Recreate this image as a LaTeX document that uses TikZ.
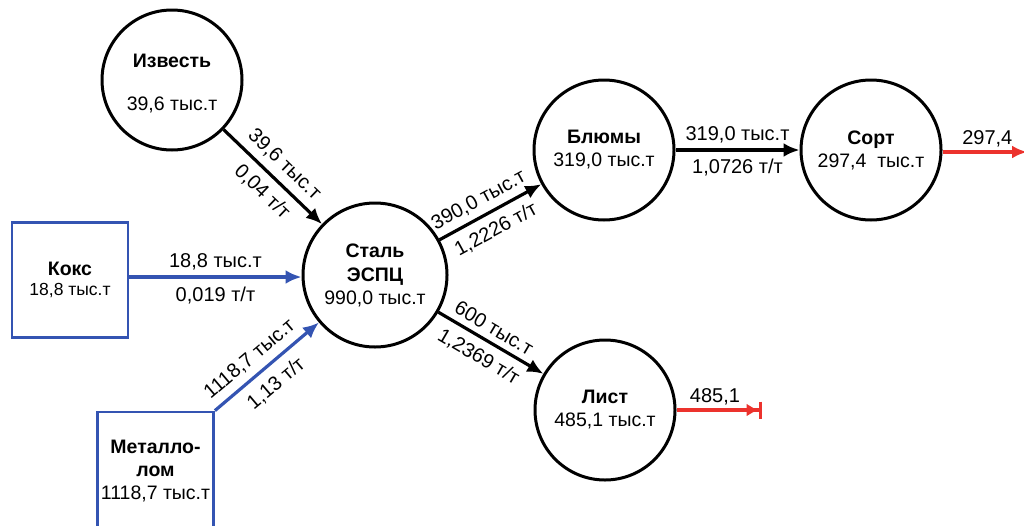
\documentclass[tikz,border=0pt]{standalone}
\usepackage{fontspec}
\setmainfont{Liberation Sans}
\usetikzlibrary{arrows.meta}
\definecolor{flowblue}{RGB}{52,84,178}
\definecolor{flowred}{RGB}{236,50,45}
\tikzset{
  circ/.style={circle, draw=black, line width=3pt, minimum size=140pt, inner sep=0pt, align=center, font=\fontsize{19.5}{23}\selectfont},
  ctext/.style={align=center, inner sep=0pt, font=\fontsize{19.5}{23}\selectfont},
  sbox/.style={rectangle, draw=flowblue, line width=2.8pt, minimum width=116pt, align=center, font=\fontsize{19.5}{23}\selectfont},
  arr/.style={line width=3.2pt, -{Latex[length=16pt,width=14pt]}},
  barr/.style={arr, draw=flowblue},
  rarr/.style={line width=3.4pt, draw=flowred},
  lab/.style={font=\fontsize{20}{22}\selectfont, sloped, inner sep=2pt},
}
\begin{document}
\begin{tikzpicture}[x=1pt,y=-1pt]
\useasboundingbox (0,0) rectangle (1024,525);
\node[circ] (izv) at (172,80) {};
\node[ctext] (izvt) at (172,84) {\textbf{Известь}\\[20pt]39,6 тыс.т};
\node[circ, minimum size=144pt] (stal) at (375,275) {\textbf{Сталь}\\[1pt]\textbf{ЭСПЦ}\\[0pt]990,0 тыс.т};
\node[circ] (blum) at (604,150) {\textbf{Блюмы}\\319,0 тыс.т};
\node[circ] (sort) at (871,150) {\textbf{Сорт}\\297,4\ \ тыс.т};
\node[circ] (list) at (605,410) {\textbf{Лист}\\485,1 тыс.т};
\node[sbox, minimum height=115pt] (koks) at (70,280) {\textbf{Кокс}\\[-3pt]{\fontsize{17.5}{20}\selectfont 18,8 тыс.т}};
\node[sbox, minimum height=118pt] (met) at (155.5,471) {\textbf{Металло-}\\\textbf{лом}\\1118,7 тыс.т};
\coordinate (sortout) at (1027,152);
\coordinate (listout) at (762,410);

\draw[arr] (izv) -- node[lab, above=5pt, pos=0.5]{39,6 тыс.т} node[lab, below=6pt, pos=0.52]{0,04 т/т} (stal);
\draw[barr] (koks.east |- 0,277) -- node[lab, above=3pt]{18,8 тыс.т} node[lab, below=6pt]{0,019 т/т} (stal.west |- 0,277);
\draw[barr] (met.north east) -- node[lab, above=5pt, pos=0.44]{1118,7 тыс.т} node[lab, below=7pt, pos=0.47]{1,13 т/т} (stal);
\draw[arr] (stal) -- node[lab, above=4pt, pos=0.46]{390,0 тыс.т} node[lab, below=6pt, pos=0.47]{1,2226 т/т} (blum);
\draw[arr] (stal) -- node[lab, above=4pt, pos=0.46]{600 тыс.т} node[lab, below=6pt, pos=0.47]{1,2369 т/т} (list);
\draw[arr] (blum) -- node[lab, above=3pt]{319,0 тыс.т} node[lab, below=5pt]{1,0726 т/т} (sort);
\draw[rarr, -{Latex[length=15pt,width=13pt]}] (sort.east |- sortout) -- node[lab, above=1pt, pos=0.53, text=black]{297,4} (sortout);
\draw[rarr, -{Latex[length=12pt,width=13pt]Bar[width=17pt]}] (list.east |- listout) -- node[lab, above=1pt, pos=0.45, text=black]{485,1} (listout);
\end{tikzpicture}
\end{document}
